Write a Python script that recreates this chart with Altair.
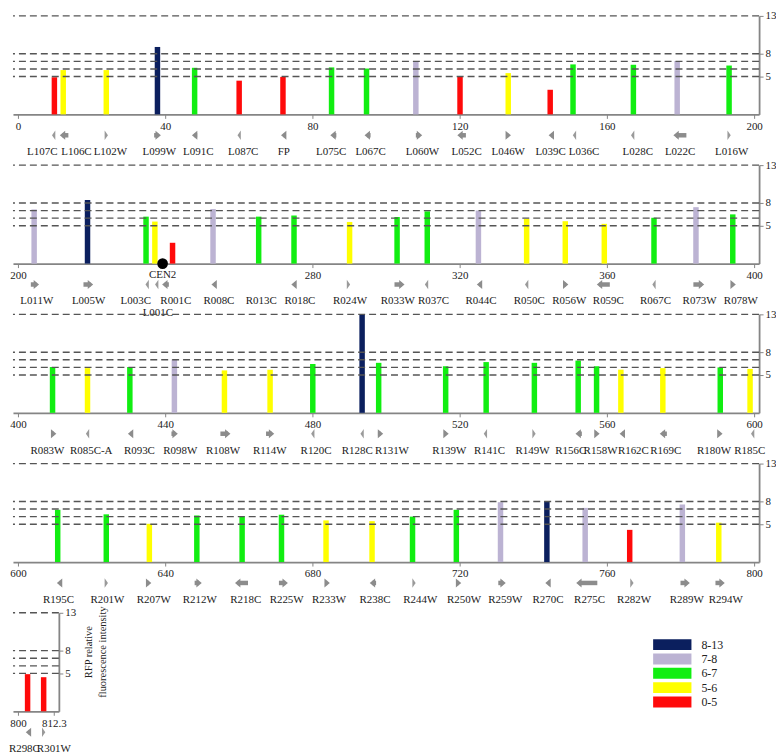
import altair as alt
import pandas as pd

# ---------------- data ----------------
bar_pos = [9.9, 12.3, 24.0, 37.9, 48.0, 60.1, 72.0, 85.2, 94.7, 108.1, 120.1, 133.2, 144.6, 150.8, 167.2, 179.1, 193.2,
           204.4, 218.9, 234.8, 237.2, 242.0, 253.0, 265.4, 275.0, 290.1, 303.0, 311.2, 325.1, 338.2, 348.7, 359.3, 372.8, 384.2, 394.2,
           409.4, 418.9, 430.4, 442.5, 456.1, 468.5, 480.1, 493.5, 498.0, 516.2, 527.2, 540.3, 552.2, 557.2, 563.8, 575.2, 590.8, 598.9,
           610.8, 624.0, 635.7, 648.6, 660.9, 671.6, 683.7, 696.2, 707.2, 719.1, 731.1, 743.7, 754.1, 766.2, 780.5, 790.4,
           803.3, 808.8]
bar_val = [4.9, 5.85, 5.85, 8.9, 6.15, 4.45, 4.95, 6.2, 6.05, 7.05, 4.95, 5.45, 3.25, 6.6, 6.55, 7.05, 6.45,
           7.15, 8.4, 6.2, 5.55, 2.75, 7.2, 6.2, 6.35, 5.5, 6.15, 6.9, 7.0, 5.9, 5.6, 5.25, 6.05, 7.45, 6.5,
           6.05, 5.9, 6.05, 7.05, 5.6, 5.7, 6.45, 13.0, 6.6, 6.15, 6.7, 6.6, 6.9, 6.15, 5.7, 5.9, 6.0, 5.8,
           6.9, 6.3, 5.05, 6.15, 6.05, 6.25, 5.5, 5.4, 6.0, 6.9, 7.9, 8.05, 7.15, 4.25, 7.6, 5.2,
           4.9, 4.5]
bar_cls = ["0-5", "5-6", "5-6", "8-13", "6-7", "0-5", "0-5", "6-7", "6-7", "7-8", "0-5", "5-6", "0-5", "6-7", "6-7", "7-8", "6-7",
           "7-8", "8-13", "6-7", "5-6", "0-5", "7-8", "6-7", "6-7", "5-6", "6-7", "6-7", "7-8", "5-6", "5-6", "5-6", "6-7", "7-8", "6-7",
           "6-7", "5-6", "6-7", "7-8", "5-6", "5-6", "6-7", "8-13", "6-7", "6-7", "6-7", "6-7", "6-7", "6-7", "5-6", "5-6", "6-7", "5-6",
           "6-7", "6-7", "5-6", "6-7", "6-7", "6-7", "5-6", "5-6", "6-7", "6-7", "7-8", "8-13", "7-8", "0-5", "7-8", "5-6",
           "0-5", "0-5"]

gene_name = ["L107C", "L106C", "L102W", "L099W", "L091C", "L087C", "FP", "L075C", "L067C",
             "L060W", "L052C", "L046W", "L039C", "L036C", "L028C", "L022C", "L016W",
             "L011W", "L005W", "L003C", "L001C", "R001C", "R008C", "R013C", "R018C", "R024W",
             "R033W", "R037C", "R044C", "R050C", "R056W", "R059C", "R067C", "R073W", "R078W",
             "R083W", "R085C-A", "R093C", "R098W", "R108W", "R114W", "R120C", "R128C", "R131W",
             "R139W", "R141C", "R149W", "R156C", "R158W", "R162C", "R169C", "R180W", "R185C",
             "R195C", "R201W", "R207W", "R212W", "R218C", "R225W", "R233W", "R238C",
             "R244W", "R250W", "R259W", "R270C", "R275C", "R282W", "R289W", "R294W",
             "R298C", "R301W"]
gene_start = [9.7, 12.1, 24.0, 37.0, 48.0, 60.1, 72.2, 85.6, 94.9,
              108.1, 120.1, 132.8, 144.9, 151.2, 167.0, 178.8, 193.2,
              203.5, 217.8, 235.1, 237.7, 239.9, 253.3, 265.4, 275.0, 289.8,
              302.3, 311.0, 325.4, 338.2, 348.2, 358.0, 372.8, 383.5, 393.8,
              409.2, 418.9, 430.6, 441.7, 455.0, 467.4, 480.1, 493.5, 497.8,
              515.9, 527.0, 540.2, 552.2, 557.0, 564.2, 575.1, 590.3, 599.6,
              611.3, 624.0, 635.2, 648.0, 659.7, 670.9, 683.7, 696.3,
              707.6, 719.4, 730.5, 744.0, 752.4, 766.8, 780.0, 789.5,
              803.6, 808.8]
gene_end = [9.7, 13.7, 24.0, 38.1, 48.7, 60.1, 72.7, 86.5, 95.8,
            109.1, 121.7, 133.2, 145.4, 151.2, 167.0, 181.6, 193.2,
            205.0, 219.7, 235.1, 237.7, 241.0, 253.8, 265.4, 275.4, 289.8,
            304.3, 311.0, 325.9, 338.2, 348.8, 360.8, 372.8, 385.7, 394.3,
            409.7, 418.9, 431.0, 442.7, 457.0, 468.9, 480.1, 493.5, 498.5,
            516.3, 527.0, 540.2, 553.2, 557.3, 564.5, 576.3, 590.7, 599.6,
            611.6, 624.0, 635.5, 649.2, 662.5, 672.6, 684.0, 697.3,
            707.6, 719.7, 731.8, 744.3, 757.4, 766.8, 781.8, 791.3,
            803.9, 808.8]
gene_strand = ["C", "C", "W", "W", "C", "C", "C", "C", "C",
               "W", "C", "W", "C", "C", "C", "C", "W",
               "W", "W", "C", "C", "C", "C", "C", "C", "W",
               "W", "C", "C", "C", "W", "C", "C", "W", "W",
               "W", "C", "C", "W", "W", "W", "C", "C", "W",
               "W", "C", "W", "C", "W", "C", "C", "W", "C",
               "C", "W", "W", "W", "C", "W", "W", "C",
               "W", "W", "W", "C", "C", "W", "W", "W",
               "C", "W"]
gene_kind = ["c", "a", "c", "a", "a", "c", "a", "a", "a",
             "a", "a", "a", "a", "c", "c", "a", "c",
             "a", "a", "c", "c", "a", "a", "n", "a", "c",
             "a", "c", "a", "c", "a", "a", "c", "a", "a",
             "a", "c", "a", "a", "a", "a", "c", "c", "a",
             "a", "c", "c", "a", "a", "a", "a", "a", "c",
             "a", "c", "a", "a", "a", "a", "a", "a",
             "c", "a", "a", "a", "a", "c", "a", "a",
             "a", "c"]
label_x = [6.6, 15.9, 25.1, 38.4, 49.0, 61.2, 72.2, 85.1, 95.8,
           109.9, 121.9, 133.2, 144.7, 153.8, 168.4, 179.9, 193.9,
           205.1, 219.2, 232.0, 238.0, 242.9, 254.6, 266.1, 276.6, 290.2,
           303.2, 312.9, 325.8, 338.9, 349.8, 360.4, 373.2, 385.2, 396.4,
           408.0, 419.9, 433.0, 444.1, 455.7, 468.4, 481.0, 492.2, 501.6,
           517.2, 528.1, 539.8, 550.2, 558.3, 567.2, 576.0, 589.1, 598.8,
           611.0, 624.3, 636.9, 649.4, 661.9, 673.0, 684.5, 697.0,
           709.3, 721.2, 732.4, 744.0, 755.3, 767.4, 781.7, 792.3,
           802.2, 812.3]
label_line = [0] * len(gene_name)
label_line[gene_name.index("L001C")] = 1

levels = [5, 6, 7, 8, 13]
y_ticks = [5, 8, 13]
row_ranges = [(0, 200), (200, 400), (400, 600), (600, 800), (800, 812.3)]
row_xticks = [[0, 40, 80, 120, 160, 200],
              [200, 280, 320, 360, 400],
              [400, 440, 480, 520, 560, 600],
              [600, 640, 680, 720, 760, 800],
              [800, 812.3]]
cls_order = ["8-13", "7-8", "6-7", "5-6", "0-5"]
cls_colors = ["#0b1f5e", "#bcb3d3", "#11ee11", "#ffff00", "#ff0a0a"]
cen_pos = [239.3]
cen_name = ["CEN2"]
y_title = ["RFP relative", "fluorescence intensity"]

# ---------------- frames ----------------
bars = pd.DataFrame({"pos": bar_pos, "val": bar_val, "cls": bar_cls})
genes = pd.DataFrame({"name": gene_name, "start": gene_start, "end": gene_end,
                      "strand": gene_strand, "kind": gene_kind,
                      "lx": label_x, "line": label_line})
genes["tip"] = [e if s == "W" else b for b, e, s in zip(gene_start, gene_end, gene_strand)]
hl = pd.DataFrame({"lvl": levels})
cen = pd.DataFrame({"pos": cen_pos, "name": cen_name, "zero": [0]})

PX = 3.75
H = 99
GRAY = "#8c8c8c"
SERIF = "Liberation Serif"
HEAD_R = "M-0.6,-1L0.6,0L-0.6,1Z"
HEAD_L = "M0.6,-1L-0.6,0L0.6,1Z"
CHEV_R = "M-0.35,-1L0.35,0L-0.35,1Z"
CHEV_L = "M0.35,-1L-0.35,0L0.35,1Z"
LEG_SYM = "M-1,-1L6,-1L6,1L-1,1Z"

yscale = alt.Scale(domain=[0, 13], nice=False, zero=True)


def make_row(lo, hi, ticks, last, with_cen):
    w = (hi - lo) * PX
    xs = alt.Scale(domain=[lo, hi], nice=False, zero=False)
    if last:
        xaxis = alt.Axis(values=ticks, format=".1~f", title=None, grid=False)
        b = bars[(bars.pos >= lo) & (bars.pos <= hi)]
        g = genes[(genes.tip >= lo) & (genes.tip <= hi)]
    else:
        xaxis = alt.Axis(values=ticks, format="d", title=None, grid=False)
        b = bars[(bars.pos >= lo) & (bars.pos < hi)]
        g = genes[(genes.tip >= lo) & (genes.tip < hi)]

    if last:
        yaxis = alt.Axis(orient="right", values=y_ticks, grid=False, tickSize=4,
                         title=y_title, titleAngle=270, titleFont=SERIF, titleFontSize=10.5,
                         titleLineHeight=14, titleFontWeight="normal", titleColor="#222222",
                         titlePadding=4, titleY=39)
    else:
        yaxis = alt.Axis(orient="right", values=y_ticks, grid=False, tickSize=4, title=None)

    bar_layer = alt.Chart(b).mark_bar(size=5.5).encode(
        x=alt.X("pos:Q", scale=xs, axis=xaxis),
        y=alt.Y("val:Q", scale=yscale, axis=yaxis),
        color=alt.Color("cls:N", scale=alt.Scale(domain=cls_order, range=cls_colors),
                        legend=alt.Legend(title=None, orient="none", legendX=643, legendY=626,
                                          symbolType=LEG_SYM, symbolSize=121, symbolStrokeWidth=0,
                                          labelFont=SERIF, labelFontSize=12, labelColor="#222222",
                                          labelOffset=37, rowPadding=2.4, padding=0)),
    )
    dash = alt.Chart(hl).mark_rule(strokeDash=[7, 4], color="#555555", strokeWidth=1.4).encode(
        y=alt.Y("lvl:Q", scale=yscale, axis=yaxis)
    )
    layers = [bar_layer, dash]

    arrows = g[g.kind == "a"]
    layers.append(alt.Chart(arrows).mark_rule(strokeWidth=4.5, color=GRAY).encode(
        x=alt.X("start:Q", scale=xs, axis=xaxis), x2="end:Q", y=alt.value(H + 21)))
    for strand, shp in (("W", HEAD_R), ("C", HEAD_L)):
        d = arrows[arrows.strand == strand]
        if len(d):
            layers.append(alt.Chart(d).mark_point(shape=shp, filled=True, size=81, color=GRAY,
                                                  opacity=1, strokeWidth=0).encode(
                x=alt.X("tip:Q", scale=xs, axis=xaxis), y=alt.value(H + 21)))
    chev = g[g.kind == "c"]
    for strand, shp in (("W", CHEV_R), ("C", CHEV_L)):
        d = chev[chev.strand == strand]
        if len(d):
            layers.append(alt.Chart(d).mark_point(shape=shp, filled=True, size=90, color="#9a9a9a",
                                                  opacity=1, strokeWidth=0).encode(
                x=alt.X("tip:Q", scale=xs, axis=xaxis), y=alt.value(H + 21)))
    for line, off in ((0, 38), (1, 50)):
        d = g[g.line == line]
        if len(d):
            layers.append(alt.Chart(d).mark_text(font=SERIF, fontSize=11, color="#1a1a1a",
                                                 baseline="middle").encode(
                x=alt.X("lx:Q", scale=xs, axis=xaxis), y=alt.value(H + off), text="name:N"))
    if with_cen:
        layers.append(alt.Chart(cen).mark_point(filled=True, size=115, color="black", opacity=1).encode(
            x=alt.X("pos:Q", scale=xs, axis=xaxis), y=alt.Y("zero:Q", scale=yscale, axis=yaxis)))
        layers.append(alt.Chart(cen).mark_text(font=SERIF, fontSize=11, color="#1a1a1a",
                                               baseline="middle").encode(
            x=alt.X("pos:Q", scale=xs, axis=xaxis), y=alt.value(H + 11), text="name:N"))
    return alt.layer(*layers).properties(width=w, height=H)


rows = []
for i, (lo, hi) in enumerate(row_ranges):
    rows.append(make_row(lo, hi, row_xticks[i], i == len(row_ranges) - 1, lo <= cen_pos[0] <= hi))

chart = alt.vconcat(*rows, spacing=51, bounds="flush", padding=0).resolve_scale(
    x="independent", y="independent", color="shared"
).configure_view(stroke=None).configure_axis(
    labelFont=SERIF, labelFontSize=11, labelColor="#222222",
    domainColor="#858585", domainWidth=1.8, tickColor="#858585", tickSize=4, labelPadding=2
)

chart.save("out.html", embed_options={"renderer": "svg", "actions": False})
